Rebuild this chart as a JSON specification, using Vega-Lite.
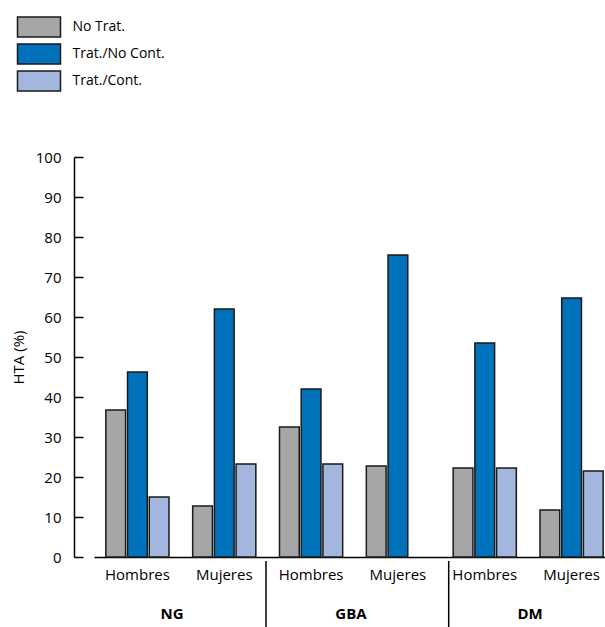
{
  "$schema": "https://vega.github.io/schema/vega-lite/v6.json",
  "width": 531,
  "height": 400,
  "autosize": {"type": "none"},
  "padding": {"left": 74, "top": 157, "right": 0, "bottom": 70},
  "background": "white",
  "config": {
    "view": {"stroke": null},
    "font": "Open Sans",
    "axis": {"labelColor": "black", "titleColor": "black", "domainColor": "black", "tickColor": "black", "labelFont": "Open Sans", "titleFont": "Open Sans"},
    "legend": {"labelFont": "Open Sans"}
  },
  "datasets": {
    "barras": [
      {"clave": "NG Hombres", "serie": "No Trat.", "valor": 36.75},
      {"clave": "NG Hombres", "serie": "Trat./No Cont.", "valor": 46.25},
      {"clave": "NG Hombres", "serie": "Trat./Cont.", "valor": 15},
      {"clave": "NG Mujeres", "serie": "No Trat.", "valor": 12.75},
      {"clave": "NG Mujeres", "serie": "Trat./No Cont.", "valor": 62},
      {"clave": "NG Mujeres", "serie": "Trat./Cont.", "valor": 23.25},
      {"clave": "GBA Hombres", "serie": "No Trat.", "valor": 32.5},
      {"clave": "GBA Hombres", "serie": "Trat./No Cont.", "valor": 42},
      {"clave": "GBA Hombres", "serie": "Trat./Cont.", "valor": 23.25},
      {"clave": "GBA Mujeres", "serie": "No Trat.", "valor": 22.75},
      {"clave": "GBA Mujeres", "serie": "Trat./No Cont.", "valor": 75.5},
      {"clave": "DM Hombres", "serie": "No Trat.", "valor": 22.25},
      {"clave": "DM Hombres", "serie": "Trat./No Cont.", "valor": 53.5},
      {"clave": "DM Hombres", "serie": "Trat./Cont.", "valor": 22.25},
      {"clave": "DM Mujeres", "serie": "No Trat.", "valor": 11.75},
      {"clave": "DM Mujeres", "serie": "Trat./No Cont.", "valor": 64.75},
      {"clave": "DM Mujeres", "serie": "Trat./Cont.", "valor": 21.5}
    ],
    "grupos": [
      {"grupo": "NG"},
      {"grupo": "GBA"},
      {"grupo": "DM"}
    ],
    "separadores": [
      {"grupo": "GBA"},
      {"grupo": "DM"}
    ]
  },
  "resolve": {"scale": {"x": "independent"}, "axis": {"x": "independent", "y": "independent"}},
  "layer": [
    {
      "data": {"name": "barras"},
      "mark": {"type": "bar", "stroke": "#1a1a1a", "strokeWidth": 1.5},
      "encoding": {
        "x": {
          "field": "clave",
          "type": "nominal",
          "scale": {
            "domain": ["NG Hombres", "NG Mujeres", "GBA Hombres", "GBA Mujeres", "DM Hombres", "DM Mujeres"],
            "range": [20, 541],
            "paddingInner": 0,
            "paddingOuter": 0
          },
          "axis": {
            "title": null,
            "ticks": false,
            "labelAngle": 0,
            "labelFontSize": 15,
            "labelPadding": 10,
            "domainWidth": 1.5,
            "labelOverlap": false,
            "labelExpr": "split(datum.label, ' ')[1]"
          }
        },
        "xOffset": {
          "field": "serie",
          "type": "nominal",
          "scale": {
            "domain": ["No Trat.", "Trat./No Cont.", "Trat./Cont."],
            "paddingInner": 0.09,
            "paddingOuter": 0.545
          }
        },
        "y": {
          "field": "valor",
          "type": "quantitative",
          "scale": {"domain": [0, 100], "nice": false},
          "axis": {
            "title": "HTA (%)",
            "titleFontSize": 15,
            "titleFontWeight": "normal",
            "titlePadding": 9,
            "values": [0, 10, 20, 30, 40, 50, 60, 70, 80, 90, 100],
            "labelOverlap": false,
            "grid": false,
            "tickSize": -9,
            "tickWidth": 1.5,
            "domainWidth": 1.5,
            "labelFontSize": 15,
            "labelPadding": 22
          }
        },
        "color": {
          "field": "serie",
          "type": "nominal",
          "scale": {
            "domain": ["No Trat.", "Trat./No Cont.", "Trat./Cont."],
            "range": ["#a6a6a6", "#0072bb", "#a3b6de"]
          },
          "legend": {
            "title": null,
            "orient": "none",
            "legendX": -46,
            "legendY": -141,
            "symbolType": "M-2.15,-1L2.15,-1L2.15,1L-2.15,1Z",
            "symbolSize": 400,
            "symbolStrokeColor": "#1a1a1a",
            "symbolStrokeWidth": 1.5,
            "symbolOpacity": 1,
            "labelFontSize": 14,
            "labelColor": "black",
            "labelOffset": 22.5,
            "rowPadding": 1
          }
        }
      }
    },
    {
      "data": {"name": "separadores"},
      "mark": {"type": "rule", "color": "black", "strokeWidth": 1.5},
      "encoding": {
        "x": {
          "field": "grupo",
          "type": "nominal",
          "bandPosition": 0,
          "scale": {"domain": ["NG", "GBA", "DM"], "range": [9.3, 557.4], "paddingInner": 0, "paddingOuter": 0},
          "axis": null
        },
        "y": {"datum": -1, "type": "quantitative", "axis": null},
        "y2": {"datum": -17.5}
      }
    },
    {
      "data": {"name": "grupos"},
      "mark": {"type": "text", "fontWeight": "bold", "fontSize": 15, "color": "black", "baseline": "middle", "align": "center"},
      "encoding": {
        "x": {
          "field": "grupo",
          "type": "nominal",
          "scale": {"domain": ["NG", "GBA", "DM"], "range": [8.5, 545.5], "paddingInner": 0, "paddingOuter": 0},
          "axis": null
        },
        "y": {"datum": -14.25, "type": "quantitative", "axis": null},
        "text": {"field": "grupo"}
      }
    }
  ]
}
